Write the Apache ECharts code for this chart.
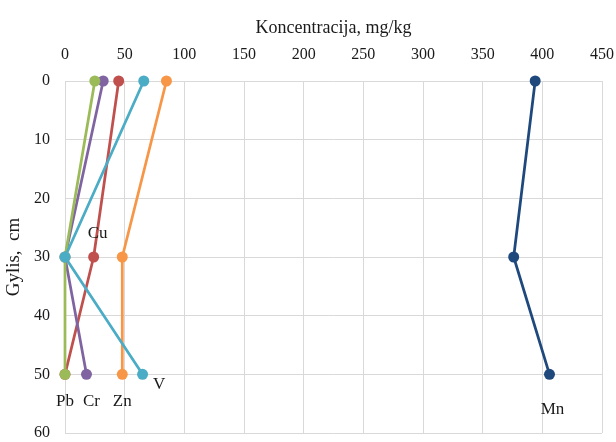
<!DOCTYPE html>
<html>
<head>
<meta charset="utf-8">
<script src="https://cdn.jsdelivr.net/npm/echarts@6/dist/echarts.min.js"></script>
<style>
  html, body { margin: 0; padding: 0; background: #fff; }
  #chart { width: 616px; height: 442px; }
</style>
</head>
<body>
<div id="chart"></div>
<script>
// gylis (cm)
var depths = [0, 30, 50];
// koncentracija, mg/kg
var pb = [25, 0, 0];
var cr = [32, 0, 18];
var cu = [45, 24, 0];
var v = [66, 0, 65];
var zn = [85, 48, 48];
var mn = [394, 376, 406];

var xTicks = [0, 50, 100, 150, 200, 250, 300, 350, 400, 450];
var yTicks = [0, 10, 20, 30, 40, 50, 60];

var font = "Liberation Serif";

// series: name, values, colour, which point gets the name label and where
// (order = drawing order: green Pb dot sits over red Cu at 50 cm)
var seriesDefs = [
  { name: "Cu", data: cu, color: "#C0504D", labelAt: 1, pos: "top", dist: 9, offset: [4, 0] },
  { name: "Cr", data: cr, color: "#8064A2", labelAt: 2, pos: "bottom", dist: 13, offset: [5, 0] },
  { name: "Pb", data: pb, color: "#9BBB59", labelAt: 2, pos: "bottom", dist: 13 },
  { name: "Zn", data: zn, color: "#F79646", labelAt: 2, pos: "bottom", dist: 13 },
  { name: "V", data: v, color: "#4BACC6", labelAt: 2, pos: "right", dist: 5, offset: [0, 10] },
  { name: "Mn", data: mn, color: "#1F497D", labelAt: 2, pos: "bottom", dist: 21, offset: [3, 0] }
];

var chart = echarts.init(document.getElementById("chart"));

var series = seriesDefs.map(function (s) {
  return {
    name: s.name,
    type: "line",
    symbol: "circle",
    symbolSize: 11,
    lineStyle: { color: s.color, width: 2.75 },
    itemStyle: { color: s.color },
    data: s.data.map(function (val, i) {
      var item = { value: [val, depths[i]] };
      if (i === s.labelAt) {
        item.label = {
          show: true,
          formatter: s.name,
          position: s.pos,
          distance: s.dist,
          offset: s.offset || [0, 0],
          color: "#1a1a1a",
          fontFamily: font,
          fontSize: 17
        };
      }
      return item;
    })
  };
});

var option = {
  backgroundColor: "#fff",
  animation: false,
  grid: { left: 65, right: 14, top: 81, bottom: 9, containLabel: false, outerBoundsMode: "none" },
  xAxis: {
    type: "value",
    position: "top",
    min: 0,
    max: 450,
    interval: 50,
    name: "Koncentracija, mg/kg",
    nameLocation: "middle",
    nameGap: 44,
    nameTextStyle: { fontFamily: font, fontSize: 18, color: "#1a1a1a" },
    axisLine: { show: false },
    axisTick: { show: false },
    axisLabel: { fontFamily: font, fontSize: 16, color: "#1a1a1a", margin: 18 },
    splitLine: { show: true, lineStyle: { color: "#d9d9d9", width: 1 } }
  },
  yAxis: {
    type: "value",
    inverse: true,
    min: 0,
    max: 60,
    interval: 10,
    name: "Gylis,  cm",
    nameLocation: "middle",
    nameGap: 38,
    nameRotate: 90,
    nameTextStyle: { fontFamily: font, fontSize: 19, color: "#1a1a1a" },
    axisLine: { show: false },
    axisTick: { show: false },
    axisLabel: { fontFamily: font, fontSize: 16, color: "#1a1a1a", margin: 15 },
    splitLine: { show: true, lineStyle: { color: "#d9d9d9", width: 1 } }
  },
  series: series
};

chart.setOption(option);
</script>
</body>
</html>
